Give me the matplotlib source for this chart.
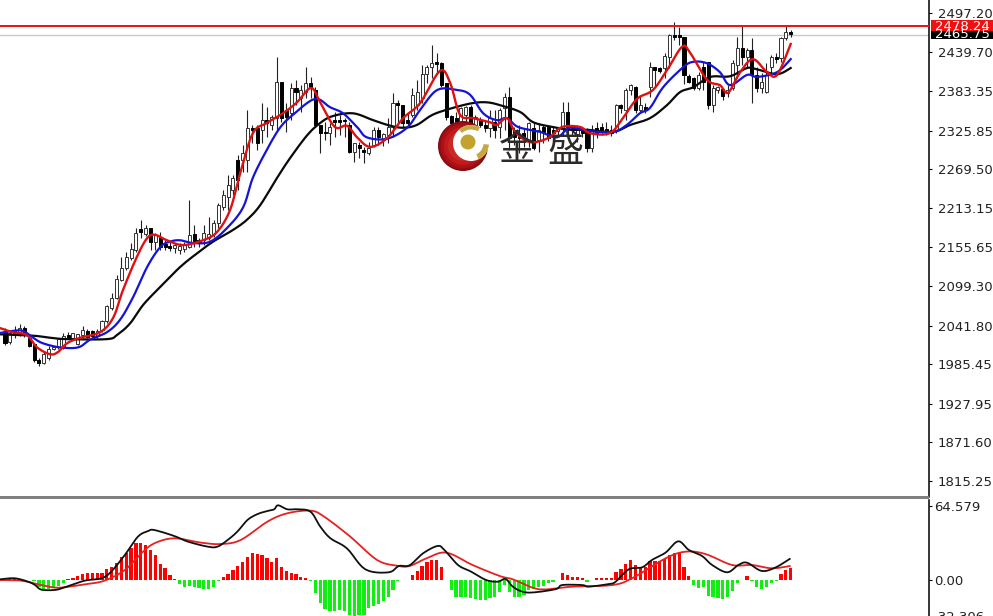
#!/usr/bin/env python3
"""Gold daily candles with three moving averages and a MACD panel below."""
import matplotlib

matplotlib.use("Agg")
import matplotlib.pyplot as plt
import numpy as np
from matplotlib.patches import Circle, Rectangle, Wedge

plt.rcParams["font.family"] = ["DejaVu Sans"]

W, H = 993, 616
AXIS_X = 929
SPLIT_Y = 497

highs = [2038,2035,2041,2044,2041,2025,2016,1994,2003,2012,
         2012,2024,2031,2032,2031,2029,2041,2037,2035,2037,
         2050,2072,2089,2115,2142,2149,2162,2184,2196,2188,
         2184,2177,2178,2166,2164,2162,2162,2164,2225,2188,
         2169,2188,2200,2196,2220,2239,2261,2261,2290,2305,
         2356,2334,2334,2366,2360,2349,2433,2397,2366,2395,
         2400,2392,2418,2404,2389,2334,2338,2337,2353,2349,
         2344,2338,2308,2309,2302,2309,2331,2331,2322,2344,
         2381,2370,2363,2351,2388,2400,2421,2421,2451,2439,
         2426,2395,2349,2353,2360,2362,2363,2349,2346,2341,
         2356,2356,2359,2381,2389,2331,2334,2330,2338,2338,
         2337,2334,2331,2331,2331,2367,2367,2334,2334,2330,
         2330,2334,2338,2337,2338,2334,2365,2365,2388,2394,
         2391,2378,2366,2426,2418,2418,2439,2467,2484,2477,
         2462,2408,2404,2411,2426,2426,2392,2391,2388,2392,
         2429,2462,2478,2446,2461,2418,2410,2424,2436,2439,
         2462,2478,2472]
body_tops = [2032,2031,2035,2038,2038,2024,2015,1992,2000,2008,
             2010,2022,2027,2028,2031,2029,2035,2034,2034,2034,
             2048,2070,2082,2110,2126,2142,2153,2177,2182,2184,
             2184,2174,2171,2161,2158,2159,2158,2159,2174,2175,
             2166,2177,2175,2191,2217,2232,2247,2257,2283,2293,
             2330,2330,2330,2341,2341,2346,2397,2397,2356,2388,
             2388,2385,2395,2395,2385,2334,2324,2331,2341,2341,
             2341,2334,2308,2305,2298,2300,2327,2327,2321,2331,
             2366,2366,2363,2341,2378,2382,2408,2418,2424,2426,
             2424,2395,2347,2344,2359,2360,2360,2346,2341,2334,
             2344,2338,2356,2375,2375,2327,2319,2322,2337,2330,
             2327,2331,2331,2327,2330,2353,2353,2331,2330,2327,
             2324,2327,2330,2331,2328,2327,2363,2363,2385,2392,
             2389,2363,2360,2418,2418,2417,2435,2465,2465,2465,
             2462,2405,2402,2407,2418,2426,2388,2389,2386,2385,
             2424,2446,2446,2443,2443,2407,2397,2407,2433,2433,
             2461,2469,2469]
body_bots = [2016,2018,2028,2032,2029,2012,1992,1987,1987,1994,
             2008,2010,2010,2024,2024,2015,2028,2025,2027,2027,
             2035,2048,2067,2082,2108,2126,2140,2152,2178,2175,
             2164,2164,2156,2156,2155,2155,2152,2153,2156,2165,
             2162,2166,2169,2175,2191,2214,2229,2239,2254,2283,
             2283,2327,2308,2327,2337,2334,2344,2344,2346,2351,
             2382,2373,2382,2389,2334,2322,2322,2322,2338,2338,
             2340,2295,2295,2300,2295,2293,2305,2316,2312,2319,
             2331,2363,2337,2337,2349,2363,2373,2408,2418,2423,
             2392,2346,2337,2337,2338,2349,2331,2334,2334,2330,
             2330,2327,2331,2359,2315,2316,2315,2316,2312,2300,
             2312,2324,2315,2322,2325,2330,2331,2328,2321,2322,
             2300,2300,2322,2325,2324,2322,2327,2359,2356,2385,
             2356,2356,2356,2389,2414,2413,2417,2433,2462,2462,
             2407,2397,2388,2388,2397,2363,2363,2385,2376,2381,
             2388,2421,2433,2433,2407,2388,2388,2382,2418,2430,
             2432,2461,2467]
lows = [2013,2015,2024,2027,2025,2010,1989,1983,1986,1992,
        2006,2008,2008,2022,2021,2013,2024,2024,2024,2024,
        2032,2045,2064,2080,2107,2123,2137,2149,2169,2172,
        2152,2152,2152,2152,2150,2147,2146,2149,2155,2156,
        2156,2159,2166,2171,2184,2210,2210,2232,2239,2265,
        2265,2308,2298,2308,2316,2327,2327,2338,2324,2341,
        2363,2353,2373,2373,2331,2293,2312,2305,2316,2319,
        2316,2293,2280,2286,2279,2290,2302,2305,2303,2308,
        2316,2334,2330,2334,2346,2356,2366,2395,2402,2410,
        2389,2341,2334,2327,2316,2334,2324,2324,2330,2316,
        2316,2315,2315,2327,2298,2305,2293,2302,2302,2298,
        2295,2308,2311,2309,2319,2319,2316,2319,2309,2316,
        2295,2295,2315,2319,2319,2318,2322,2351,2341,2378,
        2351,2351,2351,2375,2389,2410,2402,2417,2458,2451,
        2394,2395,2385,2385,2385,2357,2353,2381,2370,2375,
        2385,2402,2421,2418,2366,2382,2381,2381,2410,2424,
        2426,2458,2462]
rising = "DUDUDDDDUU" "UUUDUUUDDU" "UUUUUUUUDU" "DUDDDUUUUD" \
         "DUUUUUUUDU" "UDDUDUUDDU" "DUUDDDDUDD" "DDUDDUUDUU" \
         "UDDDUUUUUD" "DDDDUUDUDD" "UDUUDDDDUD" "UDDDUUDDUD" \
         "DUDDDDUDUU" "DUDUDDUUDD" "DDDUDDUUDU" "UUDUDDUUUD" "UUD"

slow_x = [-1,5.8,9.3,12.8,21,23.1,25.8,28.5,32,36.1,39.6,42.9,47,49.9,52.6,56.1,58.8,62.3,65,67.6,
          71.8,75.9,79.4,82.1,84.9,88.2,92.4,96.5,99.4,102,106.2,108.9,113,116.5,120,125.4,128.9,
          133,136.5,139.2,141.9,145.4,149.5,153,155.1,159.2,162]
slow_ma = [2029,2027,2024,2022,2022,2028,2045,2072,2098,2127,2147,2164,2181,2196,2217,2257,2286,2319,2337,2347,
           2351,2341,2333,2330,2334,2349,2359,2366,2367,2363,2353,2338,2331,2327,2327,2324,2334,
           2344,2363,2382,2389,2404,2405,2417,2415,2408,2417]
mid_x = [-1,1.6,3.7,5.8,7.8,11.3,15.1,17.5,21,23.7,26.4,29.3,32,34,36.1,38.8,42.3,45.8,49.1,51.1,54,56.7,59.4,
         63.9,67,69.7,72.6,74.6,78.8,82.9,85.6,89.1,93.2,95.9,98.6,101.4,103.5,105.8,110.3,113.8,116.5,120.6,
         125.4,128.2,130.9,133,135.7,139.8,141.9,144.7,147.4,149.5,153,155.1,159.2,162]
mid_ma = [2031,2034,2034,2024,2016,2010,2010,2021,2032,2050,2083,2127,2156,2164,2166,2162,2164,2184,2214,2257,2298,2330,2349,
          2372,2360,2351,2331,2316,2314,2330,2356,2385,2385,2378,2351,2341,2344,2331,2324,2316,2330,2325,
          2324,2334,2351,2359,2389,2418,2426,2424,2411,2392,2407,2404,2411,2430]
fast_x = [-1,1.6,4.5,6.6,9.3,10.9,12.8,15.5,19.6,22.3,24.3,27.2,29.3,30.9,33.4,36.7,40.8,43.7,46.4,48.5,51.1,54,57.3,
          60.2,63.1,65,68,70.5,72.6,75.3,78.8,82.1,85.6,89.7,91.8,93.8,96.5,100,101.4,103.5,105.2,108.2,112,114.8,
          118.6,120.6,124.7,127.4,130.3,133.6,136.5,139.6,141.2,144.7,147.4,149.1,151.5,154.2,157.1,159.2,162]
fast_ma = [2038,2032,2028,2010,2000,2003,2016,2024,2032,2053,2093,2142,2169,2174,2166,2159,2166,2178,2210,2264,2322,2337,2351,
           2367,2388,2367,2331,2333,2316,2302,2315,2344,2366,2413,2395,2349,2344,2338,2334,2344,2324,2309,2315,2331,
           2331,2322,2322,2344,2372,2385,2414,2448,2440,2400,2392,2381,2410,2430,2411,2407,2452]

price_ticks = [2497.20,2439.70,2383.35,2325.85,2269.50,2213.15,2155.65,2099.30,2041.80,1985.45,1927.95,1871.60,1815.25]
last_high = 2478.24
last_price = 2465.75

macd_hist = [0.3,0.6,1.2,0.6,0.3,-0.3,-0.9,-6.4,-9.3,-8.1,-7.3,-5.2,-2.3,0.6,2,3.5,5.2,5.8,5.8,5.8,
             5.8,9.3,11.6,15.1,19.8,23.9,27.6,32.6,32,30.6,26.2,21.8,14,10.2,4.7,1.2,-3.5,-5.8,-5.2,-5.8,
             -7.3,-7.6,-7.6,-5.8,-0.9,2.9,5.2,8.7,12.2,16,19.8,23.3,22.7,21.5,18.9,16,18.9,11.6,7.6,6.4,
             4.9,2.9,1.5,-0.6,-11.6,-19.8,-25.6,-27.4,-27.1,-26.2,-26.8,-30.6,-31.1,-30.6,-30.6,-24.7,-22.7,-21,-18,-14.6,
             -8.7,-0.9,-0.3,-0.3,4.4,7.9,12.2,16,17.5,17.5,11.1,0.3,-8.7,-14.6,-14.6,-14.6,-16,-16.6,-17.5,-17.5,
             -16,-15.1,-10.2,-4.4,-10.2,-15.1,-15.1,-13.1,-8.7,-7.6,-6.4,-5.2,-2.9,-1.7,0.3,5.8,4.1,2.3,2.3,1.5,
             -1.5,0.3,1.5,1.5,1.5,1.7,7,9.9,14,17.5,13.1,11.1,11.1,16.9,16.9,16.9,18,21.8,23.3,23.3,
             11.6,3.5,-4.7,-7,-6.4,-14,-15.1,-16,-16.9,-15.1,-9.3,-2.3,0.3,3.5,-1.2,-6.4,-8.1,-5.8,-2.9,-0.9,
             5.2,8.7,10.2]
macd_x = [-1,2,4.8,6.2,7.5,10.3,12.3,16.4,19.9,21.9,24.7,27.4,29.5,30.8,34.9,37.7,41.8,43.8,45.9,47.9,50,52.1,54.1,
          55.5,56.3,58.2,60.3,63,65,67.1,70.5,74.3,79.1,81.2,83.4,86.2,89.2,90.6,93.4,96.1,99.2,101.6,103.2,104.7,
          106.7,109.1,113.6,114.9,119,120.4,124.5,125.9,128.6,131.4,133.4,136.2,138.8,141,143.7,145.8,148.9,151.2,
          153,156,158.8,161.8]
macd_line = [0.6,1.5,-1.5,-4.4,-8.4,-8.7,-6.4,-0.6,1.5,7.3,21.8,37.8,42.7,43.6,38.4,33.5,29.1,29.1,34.9,42.2,52.4,57.6,60.2,
             61.7,65.2,61.7,61.7,59.6,46.6,36.4,27.6,9.3,6.7,12.2,12.8,23.3,29.7,26.2,13.1,7.3,0,-1.5,0.9,-5.8,
             -10.2,-10.8,-7.9,-4.4,-4.4,-5.8,-3.5,-1.5,9.3,11.1,17.5,23.9,33.8,26.2,21,13.1,6.7,13.1,
             15.1,7.9,10.8,18.4]
signal_x = [-1,3.4,7.5,11,16.4,20.5,24.7,28.1,30.8,34.9,40.4,44.5,48.6,54.1,58.2,63,65.8,71.2,76.7,80.8,83.4,86.9,91,
            96.4,102,104.7,108.8,111.5,117,125.2,129.3,136.2,140.3,144.4,149.9,154,158.1,161.8]
signal_line = [0,-0.6,-4.4,-6.7,-3.8,-0.6,8.7,23.3,32,36.4,32.6,31.4,34.9,50.9,58.2,60.5,55.3,37.8,17.5,12.5,12.2,18.9,23.9,
               13.1,3.5,0.6,-6.7,-8.2,-5.8,-4.4,1.5,18.9,24.7,22.7,13.1,13.1,10.2,12.2]

assert len(highs) == len(lows) == len(body_tops) == len(body_bots) == len(rising) == len(macd_hist) == 163


def curve(xs, ys, steps=6):
    """Round the corners between the read points (Catmull-Rom), for drawing only."""
    p = np.column_stack([xs, ys]).astype(float)
    p = np.vstack([p[0], p, p[-1]])
    out = []
    for i in range(1, len(p) - 2):
        for t in np.linspace(0, 1, steps, endpoint=False):
            out.append(0.5 * (2 * p[i] + (p[i + 1] - p[i - 1]) * t
                              + (2 * p[i - 1] - 5 * p[i] + 4 * p[i + 1] - p[i + 2]) * t ** 2
                              + (3 * p[i] - p[i - 1] - 3 * p[i + 1] + p[i + 2]) * t ** 3))
    out.append(p[-1])
    out = np.array(out)
    return out[:, 0], out[:, 1]


px = 1 / 100
fig = plt.figure(figsize=(W * px, H * px), dpi=100, facecolor="white")

bar_px = 4.85
x_min = -5 / bar_px
x_max = x_min + AXIS_X / bar_px
y_at = lambda p: 2516.1 - 1.457 * p  # price at pixel row

ax = fig.add_axes([0, (H - SPLIT_Y) / H, AXIS_X / W, SPLIT_Y / H])
ax.set_xlim(x_min, x_max)
ax.set_ylim(y_at(SPLIT_Y), y_at(0))

bars = np.arange(len(highs))
up = np.array([c == "U" for c in rising])
ax.vlines(bars, lows, highs, color="#222222", lw=0.8, zorder=2)
tops = np.array(body_tops)
bots = np.array(body_bots)
ax.bar(bars[up], tops[up] - bots[up], bottom=bots[up], width=0.62,
       color="white", edgecolor="#333333", linewidth=0.7, zorder=3)
ax.bar(bars[~up], tops[~up] - bots[~up], bottom=bots[~up], width=0.62,
       color="black", edgecolor="black", linewidth=0.7, zorder=3)

ax.plot(*curve(slow_x, slow_ma), color="#0a0a0a", lw=1.6, zorder=4)
ax.plot(*curve(mid_x, mid_ma), color="#1414d8", lw=1.6, zorder=5)
ax.plot(*curve(fast_x, fast_ma), color="#e01010", lw=1.7, zorder=6)
ax.axhline(last_price, color="#c8c8c8", lw=1.0, zorder=1)
ax.axhline(last_high, color="#ee1111", lw=1.4, zorder=7)

ax.set_yticks(price_ticks)
ax.set_yticklabels([f"{t:.2f}" for t in price_ticks])
ax.set_xticks([])

ax2 = fig.add_axes([0, 0, AXIS_X / W, (H - SPLIT_Y - 3) / H])
ax2.set_xlim(x_min, x_max)
ax2.set_ylim(-36 * 0.8727, 80 * 0.8727)
colors = ["#ff0000" if v > 0 else "#11ee11" for v in macd_hist]
ax2.bar(bars, macd_hist, width=0.68, color=colors, zorder=2)
ax2.plot(*curve(signal_x, signal_line), color="#e82020", lw=1.3, zorder=3)
ax2.plot(*curve(macd_x, macd_line), color="#101010", lw=1.3, zorder=4)
ax2.set_yticks([64.579, 0.0])
ax2.set_yticklabels(["64.579", "0.00"])
ax2.set_xticks([])
ax2.text(1.005, -32.306, "-32.306", transform=ax2.get_yaxis_transform(), fontsize=9.5,
         color="#222222", va="center", ha="left", clip_on=False)

for a, pad in ((ax, 4.2), (ax2, 1.6)):
    a.patch.set_alpha(0)
    for side in ("left", "top", "bottom"):
        a.spines[side].set_visible(False)
    a.spines["right"].set_linewidth(1.1)
    a.yaxis.tick_right()
    a.tick_params(axis="y", length=2.2, width=0.8, pad=pad, labelsize=9.5, labelcolor="#222222")

# overlay in pixel rows: separator, price tags and the watermark
top = fig.add_axes([0, 0, 1, 1], zorder=10)
top.set_xlim(0, W)
top.set_ylim(H, 0)
top.axis("off")
top.add_patch(Rectangle((0, SPLIT_Y - 1.5), AXIS_X, 3, color="#808080", lw=0))

top.add_patch(Rectangle((931, 30), W - 931, 9, color="black", lw=0))
top.text(935, 34.5, f"{last_price:.2f}", color="white", fontsize=9.5, va="center")
top.add_patch(Rectangle((931, 20), W - 931, 11, color="#f01010", lw=0))
top.text(935, 26, f"{last_high:.2f}", color="white", fontsize=9.5, va="center")

for r, c in ((25, "#7d0a0e"), (24, "#950d12"), (22, "#ad1116"), (19, "#c01a1c"), (15, "#c92a26")):
    top.add_patch(Circle((463, 146), r, color=c, lw=0))
top.add_patch(Circle((471, 143), 18, color="white", lw=0))
top.add_patch(Wedge((471, 143), 18, 228, 300, width=4.5, color="#c8a640", lw=0))
top.add_patch(Wedge((471, 143), 18, 5, 65, width=5.5, color="#c8a640", lw=0))
top.add_patch(Circle((468, 142), 7.5, color="#c4a22e", lw=0))
top.text(517, 150.5, "金", family=["Noto Sans CJK SC", "DejaVu Sans"], fontsize=26, color="#2e2a28",
         ha="center", va="center")
top.text(565, 150.5, "盛", family=["Noto Sans CJK SC", "DejaVu Sans"], fontsize=26, color="#2e2a28",
         ha="center", va="center")

fig.savefig("out.png", dpi=100)
